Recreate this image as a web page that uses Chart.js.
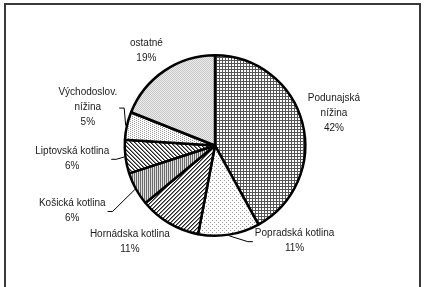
<!DOCTYPE html>
<html>
<head>
<meta charset="utf-8">
<script src="https://cdn.jsdelivr.net/npm/chart.js@4"></script>
<style>
    html, body { margin: 0; padding: 0; background: #fff; }
    #frame { position: absolute; left: 4px; top: 3px; width: 417px; height: 400px; border: 2px solid #3a3a3a; box-sizing: border-box; }
    #chart { position: absolute; left: 0; top: 0; }
</style>
</head>
<body>
<div id="frame"></div>
<canvas id="chart" width="424" height="287"></canvas>
<script>
const regions = ['Podunajská nížina', 'Popradská kotlina', 'Hornádska kotlina', 'Košická kotlina',
    'Liptovská kotlina', 'Východoslov. nížina', 'ostatné'];
const labelLines = [['Podunajská', 'nížina'], ['Popradská kotlina'], ['Hornádska kotlina'], ['Košická kotlina'],
    ['Liptovská kotlina'], ['Východoslov.', 'nížina'], ['ostatné']];
const shares = [42, 11, 11, 6, 6, 5, 19];

// label block centres, in pie radii from the pie centre
const labelPlace = [[1.30, -0.35], [0.87, 1.04], [-0.93, 1.05], [-1.56, 0.71], [-1.56, 0.14], [-1.39, -0.42], [-0.75, -1.04]];
// which side of the label the leader line leaves from
const leaderSide = [null, 'left', null, 'right', 'right', 'right', null];

function makePattern(w, h, draw) {
    const c = document.createElement('canvas');
    c.width = w;
    c.height = h;
    const g = c.getContext('2d');
    g.fillStyle = '#fff';
    g.fillRect(0, 0, w, h);
    draw(g);
    return g.createPattern(c, 'repeat');
}

function px(g, color, x, y) {
    g.fillStyle = color;
    g.fillRect(x, y, 1, 1);
}

const fills = [
    makePattern(3, 3, (g) => { g.fillStyle = '#555'; g.fillRect(0, 0, 3, 1); g.fillRect(0, 0, 1, 3); }),
    makePattern(4, 4, (g) => { px(g, '#9a9a9a', 0, 0); px(g, '#9a9a9a', 2, 2); }),
    makePattern(4, 4, (g) => {
        for (let x = 0; x < 4; x++) for (let y = 0; y < 4; y++) {
            const k = (x + y) % 4;
            if (k === 0) px(g, '#222', x, y);
            if (k === 1) px(g, '#888', x, y);
        }
    }),
    makePattern(2, 1, (g) => { px(g, '#6a6a6a', 0, 0); px(g, '#e0e0e0', 1, 0); }),
    makePattern(4, 4, (g) => {
        for (let x = 0; x < 4; x++) for (let y = 0; y < 4; y++) {
            const k = (x - y + 8) % 4;
            if (k === 0) px(g, '#222', x, y);
            if (k === 1) px(g, '#888', x, y);
        }
    }),
    makePattern(4, 2, (g) => { px(g, '#999', 0, 0); px(g, '#999', 2, 1); }),
    makePattern(2, 2, (g) => {
        px(g, '#c8c8c8', 0, 0); px(g, '#ececec', 1, 0);
        px(g, '#ececec', 0, 1); px(g, '#c8c8c8', 1, 1);
    }),
];

const outsideLabels = {
    id: 'outsideLabels',
    afterDatasetsDraw(chart) {
        const ctx = chart.ctx;
        const arcs = chart.getDatasetMeta(0).data;
        const lh = 15;
        ctx.save();
        ctx.font = '10px "Liberation Sans", Arial, sans-serif';
        ctx.textAlign = 'center';
        ctx.textBaseline = 'middle';
        arcs.forEach((arc, i) => {
            const p = arc.getProps(['x', 'y', 'outerRadius', 'startAngle', 'endAngle'], true);
            const r = p.outerRadius + 1.25;
            const lines = labelLines[i].concat(shares[i] + '%');
            const cx = p.x + labelPlace[i][0] * r;
            const cy = p.y + labelPlace[i][1] * r;
            const top = cy - (lines.length - 1) * lh / 2;
            ctx.fillStyle = '#1a1a1a';
            lines.forEach((t, k) => ctx.fillText(t, cx, top + k * lh));

            const side = leaderSide[i];
            if (!side) {
                return;
            }
            const w = Math.max(...lines.map((t) => ctx.measureText(t).width));
            const mid = (p.startAngle + p.endAngle) / 2;
            const ex = side === 'right' ? cx + w / 2 + 2 : cx - w / 2 - 2;
            const ey = cy + 1;
            const bx = side === 'right' ? ex + 5 : ex - 5;
            ctx.strokeStyle = '#000';
            ctx.lineWidth = 1;
            ctx.beginPath();
            ctx.moveTo(p.x + Math.cos(mid) * r, p.y + Math.sin(mid) * r);
            ctx.lineTo(bx, ey);
            ctx.lineTo(ex, ey);
            ctx.stroke();
        });
        ctx.restore();
    },
};

new Chart(document.getElementById('chart'), {
    type: 'pie',
    data: {
        labels: regions,
        datasets: [{
            data: shares,
            backgroundColor: fills,
            borderColor: '#000',
            borderWidth: 2.5,
        }],
    },
    options: {
        responsive: false,
        animation: false,
        events: [],
        layout: { padding: { top: 54, bottom: 50, left: 6, right: 0 } },
        plugins: { legend: { display: false }, tooltip: { enabled: false } },
    },
    plugins: [outsideLabels],
});
</script>
</body>
</html>
